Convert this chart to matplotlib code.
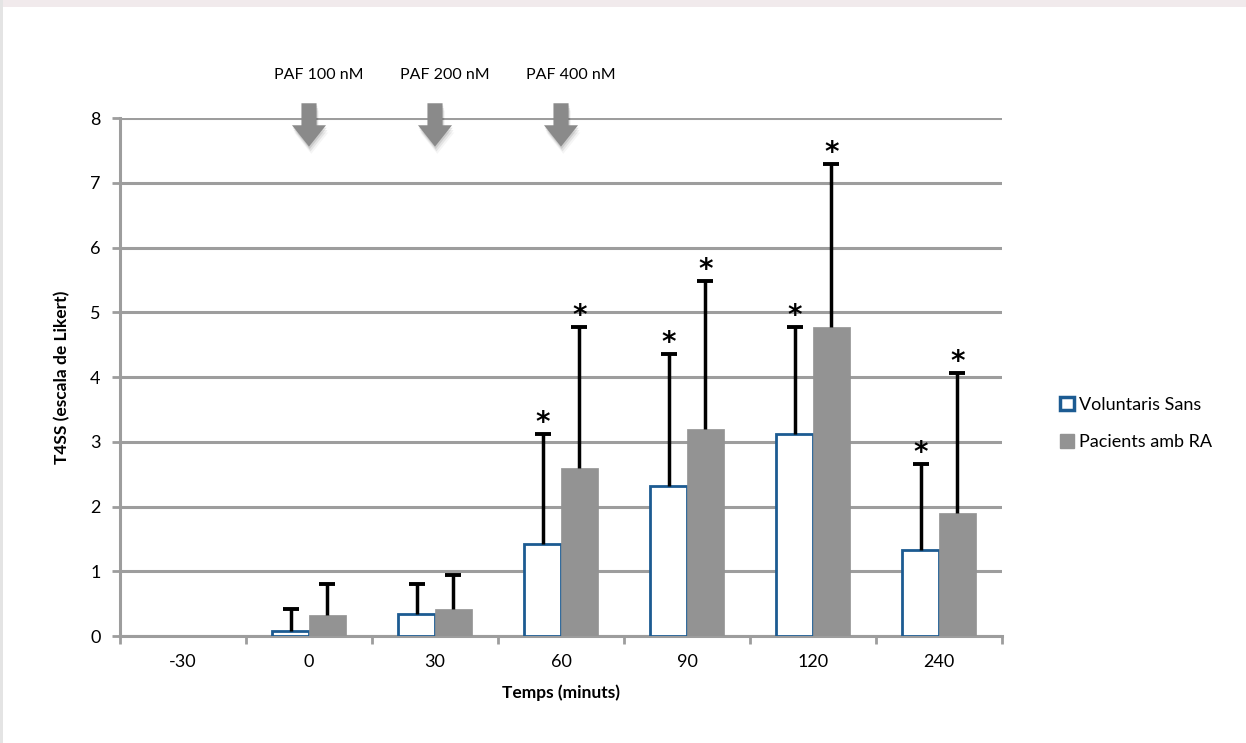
import numpy as np
import matplotlib
matplotlib.use("Agg")
import matplotlib.pyplot as plt
from matplotlib.patches import Polygon, Rectangle, Patch

plt.rcParams['font.family'] = ['Lato', 'DejaVu Sans']

# temps de mesura i valors (mitjana + desviació superior)
temps = ['-30', '0', '30', '60', '90', '120', '240']
sans_mitjana = [0.0, 0.08, 0.34, 1.42, 2.32, 3.12, 1.33]
sans_err = [0.0, 0.34, 0.46, 1.70, 2.03, 1.66, 1.32]
ra_mitjana = [0.0, 0.33, 0.42, 2.60, 3.20, 4.77, 1.90]
ra_err = [0.0, 0.48, 0.53, 2.18, 2.28, 2.52, 2.17]
sans_sig = [False, False, False, True, True, True, True]
ra_sig = [False, False, False, True, True, True, True]

# estímuls de PAF (índex del temps on s'afegeixen)
paf_labels = ['PAF 100 nM', 'PAF 200 nM', 'PAF 400 nM']
paf_pos = [1, 2, 3]

BLUE = '#1c5b92'
GRAY = '#939393'
GRID = '#9d9d9d'

fig = plt.figure(figsize=(12.46, 7.43), dpi=100)
# marc de la pàgina
fig.patches.append(Rectangle((0, 1 - 7 / 743), 1, 7 / 743, transform=fig.transFigure,
                             facecolor='#f1eaec', edgecolor='none', zorder=-5))
fig.patches.append(Rectangle((0, 0), 3 / 1246, 1, transform=fig.transFigure,
                             facecolor='#e4e4e4', edgecolor='none', zorder=-5))

ax = fig.add_axes([0.0963, 0.144, 0.7079, 0.697])
x = np.arange(len(temps))
w = 0.29

b1 = ax.bar(x - w / 2, sans_mitjana, w, facecolor='white', edgecolor=BLUE,
            linewidth=2, zorder=3)
b2 = ax.bar(x + w / 2, ra_mitjana, w, facecolor=GRAY, edgecolor=GRAY,
            linewidth=0.5, zorder=3)
for bars in (b1, b2):
    for r in bars:
        if r.get_height() == 0:
            r.set_visible(False)

# barres d'error només cap amunt, amb asterisc de significació
for xs, m, e, sig in ((x - w / 2, sans_mitjana, sans_err, sans_sig),
                      (x + w / 2, ra_mitjana, ra_err, ra_sig)):
    m = np.array(m)
    e = np.array(e)
    keep = e > 0
    ax.vlines(xs[keep], m[keep], m[keep] + e[keep], color='black', linewidth=2.5, zorder=4)
    ax.plot(xs[keep], (m + e)[keep], linestyle='none', marker='_', markersize=11,
            markeredgewidth=2.8, color='black', zorder=4)
    for xi, top, s in zip(xs, m + e, sig):
        if s:
            ax.text(xi, top + 0.17, '*', ha='center', va='center', fontsize=20,
                    fontweight='bold', family=['DejaVu Sans'], zorder=5)

ax.set_xlim(-0.5, len(temps) - 0.5)
ax.set_ylim(0, 8)
ax.set_yticks(range(0, 9))
ax.yaxis.grid(True, color=GRID, linewidth=2.2)
ax.set_axisbelow(True)

ax.set_xticks(x)
ax.set_xticklabels(temps, fontsize=13)
ax.set_xticks(np.arange(-0.5, len(temps)), minor=True)
ax.tick_params(axis='x', which='major', length=0, pad=13)
ax.tick_params(axis='x', which='minor', length=6, width=2, color=GRID)
ax.tick_params(axis='y', length=6, width=2, color=GRID, labelsize=13, pad=8)

for s in ('top', 'right'):
    ax.spines[s].set_visible(False)
for s in ('left', 'bottom'):
    ax.spines[s].set_color(GRID)
    ax.spines[s].set_linewidth(2.2)

ax.set_xlabel('Temps (minuts)', fontsize=12.5, fontweight='bold', labelpad=10)
ax.set_ylabel('T4SS (escala de Likert)', fontsize=12.5, fontweight='bold', labelpad=14)

# fletxes dels estímuls
for lab, p in zip(paf_labels, paf_pos):
    shaft, head = 0.06, 0.135
    ytop, yhead, ytip = 8.23, 7.89, 7.56
    pts = [(p - shaft, ytop), (p + shaft, ytop), (p + shaft, yhead), (p + head, yhead),
           (p, ytip), (p - head, yhead), (p - shaft, yhead)]
    for k, a in enumerate((0.10, 0.07, 0.04)):
        d = 0.015 * (k + 1)
        sh = [(px + d * 0.4, py - d * 2.5) for px, py in pts]
        ax.add_patch(Polygon(sh, closed=True, facecolor='black', edgecolor='none',
                             alpha=a, clip_on=False, zorder=5))
    ax.add_patch(Polygon(pts, closed=True, facecolor='#8a8a8a', edgecolor='none',
                         clip_on=False, zorder=6))
    ax.text(p + 0.08, 8.66, lab, ha='center', va='center', fontsize=11.5)

handles = [Patch(facecolor='white', edgecolor=BLUE, linewidth=2.5, label='Voluntaris Sans'),
           Patch(facecolor=GRAY, edgecolor=GRAY, label='Pacients amb RA')]
fig.legend(handles=handles, loc='center left', bbox_to_anchor=(0.838, 0.43),
           frameon=False, fontsize=13, handlelength=0.75, handleheight=0.75,
           handletextpad=0.3, labelspacing=1.2)

fig.savefig('out.png', dpi=100, facecolor='white')
